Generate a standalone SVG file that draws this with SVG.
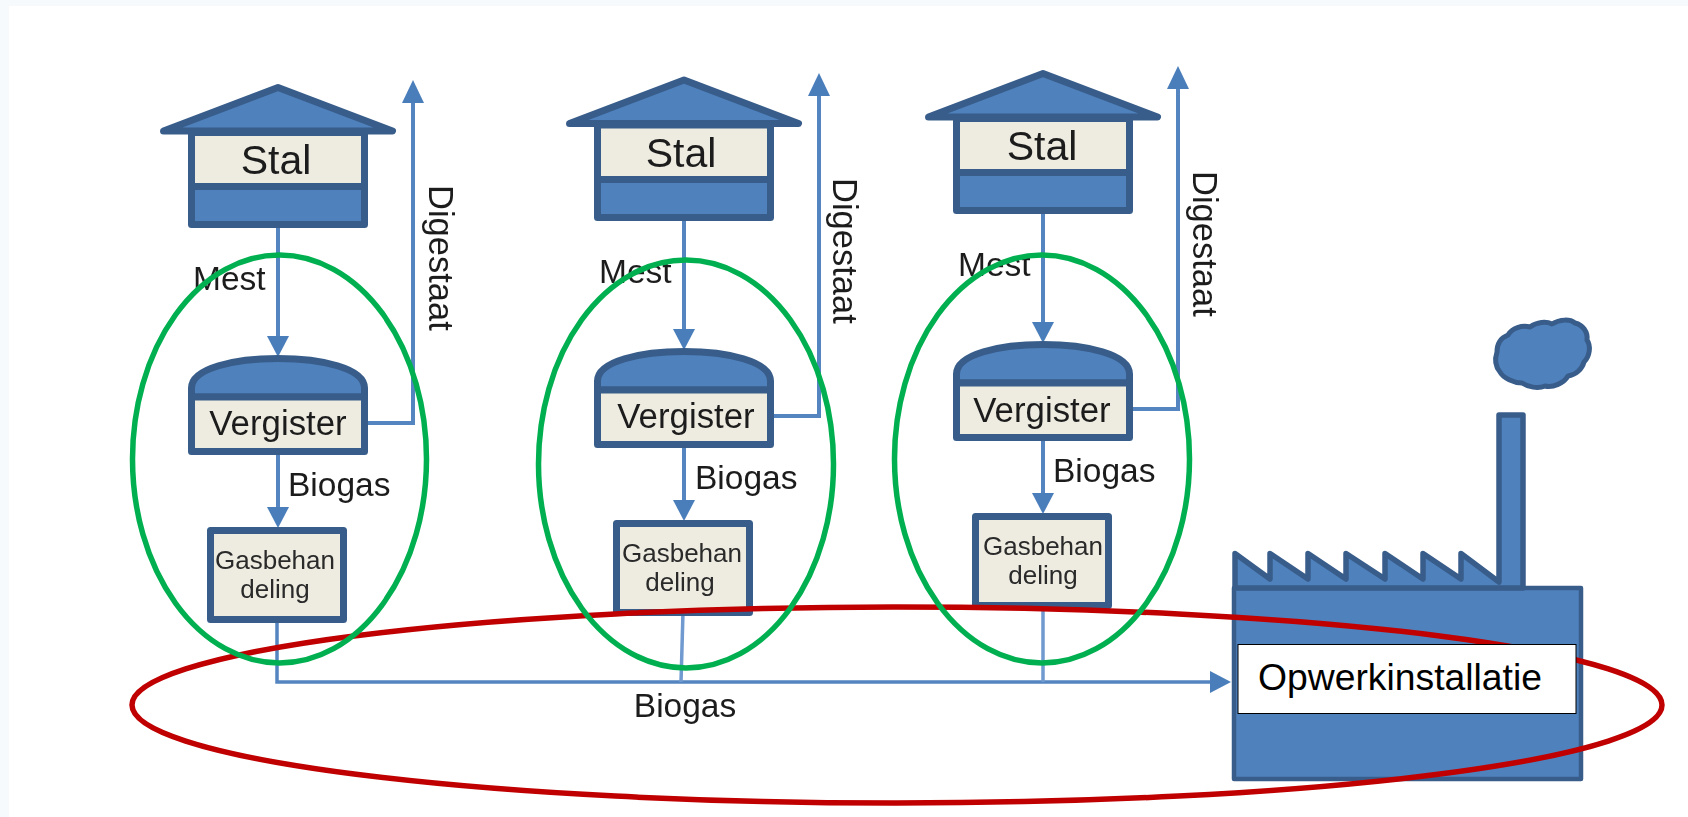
<svg xmlns="http://www.w3.org/2000/svg" width="1688" height="817" viewBox="0 0 1688 817">
<style>
.shape{fill:#4f81bd;stroke:#385d8a;stroke-width:7;stroke-linejoin:round}
.thin{stroke-width:5}
.cream{fill:#eeece1;stroke:#385d8a;stroke-width:7;stroke-linejoin:round}
.wire{fill:none;stroke:#5585c0;stroke-width:4}
.feed{fill:none;stroke:#6f9ad0;stroke-width:3.500}
.head{fill:#4a7ebb}
text{font-family:"Liberation Sans",Arial,sans-serif;fill:#1c1c1c}
.t34{font-size:33.500px}
.t35{font-size:34.800px}
.t40{font-size:41px}
.t26{font-size:26px;fill:#2a2a2a}
.mid{text-anchor:middle}
.green{fill:none;stroke:#00b050;stroke-width:5.500}
.red{fill:none;stroke:#c00000;stroke-width:5.500}
</style>
<defs>
<filter id="soft" x="-5%" y="-5%" width="110%" height="110%"><feGaussianBlur stdDeviation="0.6"/></filter>
</defs>
<rect width="1688" height="817" fill="#f6fafd"/>
<rect x="9" y="6" width="1679" height="811" fill="#ffffff"/>

<g id="connectors" filter="url(#soft)">
<g id="chain-1">
<path class="wire" d="M278 228V338"/><polygon class="head" points="267,336 289,336 278,357"/>
<path class="wire" d="M366 423H413V100"/><polygon class="head" points="402,103 424,103 413,80"/>
<path class="wire" d="M278 455V509"/><polygon class="head" points="267,507 289,507 278,528"/>
</g>
<g id="chain-2" transform="translate(406 -7)">
<path class="wire" d="M278 228V338"/><polygon class="head" points="267,336 289,336 278,357"/>
<path class="wire" d="M366 423H413V100"/><polygon class="head" points="402,103 424,103 413,80"/>
<path class="wire" d="M278 455V509"/><polygon class="head" points="267,507 289,507 278,528"/>
</g>
<g id="chain-3" transform="translate(765 -14)">
<path class="wire" d="M278 228V338"/><polygon class="head" points="267,336 289,336 278,357"/>
<path class="wire" d="M366 423H413V100"/><polygon class="head" points="402,103 424,103 413,80"/>
<path class="wire" d="M278 455V509"/><polygon class="head" points="267,507 289,507 278,528"/>
</g>
<path class="wire" d="M277 620V682H1212" style="stroke-width:3.500"/>
<path class="feed" d="M683 612L681 682"/>
<path class="feed" d="M1043 606V682"/>
<polygon class="head" points="1210,671 1231,682 1210,693"/>
</g>

<g id="stal-1" filter="url(#soft)">
<polygon class="shape" points="163.500,131 278,87.500 392.500,131"/>
<rect class="shape" x="191.500" y="133" width="173" height="91.500"/>
<rect class="cream" x="191.500" y="132.500" width="173" height="54"/>
<text class="t40 mid" x="276" y="174">Stal</text>
</g>
<g id="stal-2" filter="url(#soft)" transform="translate(406 -7.500)">
<polygon class="shape" points="163.500,131 278,87.500 392.500,131"/>
<rect class="shape" x="191.500" y="133" width="173" height="92"/>
<rect class="cream" x="191.500" y="132.500" width="173" height="54.500"/>
<text class="t40 mid" x="275" y="174.500">Stal</text>
</g>
<g id="stal-3" filter="url(#soft)" transform="translate(765 -14)">
<polygon class="shape" points="163.500,131 278,87.500 392.500,131"/>
<rect class="shape" x="191.500" y="133" width="173" height="91.500"/>
<rect class="cream" x="191.500" y="132.500" width="173" height="54"/>
<text class="t40 mid" x="277" y="174">Stal</text>
</g>

<g id="vergister-1" filter="url(#soft)">
<path class="shape" d="M191.500 397V388C191.500 368 235 358.500 278 358.500C321 358.500 364.500 368 364.500 388V397Z"/>
<rect class="cream" x="191.500" y="397" width="173" height="54.500"/>
<text class="t35 mid" x="278" y="435">Vergister</text>
</g>
<g id="vergister-2" filter="url(#soft)" transform="translate(406 -7)">
<path class="shape" d="M191.500 397V388C191.500 368 235 358.500 278 358.500C321 358.500 364.500 368 364.500 388V397Z"/>
<rect class="cream" x="191.500" y="397" width="173" height="54.500"/>
<text class="t35 mid" x="280" y="435">Vergister</text>
</g>
<g id="vergister-3" filter="url(#soft)" transform="translate(765 -14)">
<path class="shape" d="M191.500 397V388C191.500 368 235 358.500 278 358.500C321 358.500 364.500 368 364.500 388V397Z"/>
<rect class="cream" x="191.500" y="397" width="173" height="54.500"/>
<text class="t35 mid" x="277" y="436">Vergister</text>
</g>

<g id="gasbehandeling-1" filter="url(#soft)">
<rect class="cream" x="210.500" y="530.500" width="133" height="89"/>
<text class="t26 mid" x="275" y="569">Gasbehan</text>
<text class="t26 mid" x="275" y="598">deling</text>
</g>
<g id="gasbehandeling-2" filter="url(#soft)" transform="translate(406 -7)">
<rect class="cream" x="210.500" y="530.500" width="133" height="89"/>
<text class="t26 mid" x="276" y="569">Gasbehan</text>
<text class="t26 mid" x="274" y="598">deling</text>
</g>
<g id="gasbehandeling-3" filter="url(#soft)" transform="translate(765 -14)">
<rect class="cream" x="210.500" y="530.500" width="133" height="89"/>
<text class="t26 mid" x="278" y="568.500">Gasbehan</text>
<text class="t26 mid" x="278" y="598">deling</text>
</g>

<g id="labels" filter="url(#soft)">
<text class="t34" x="193" y="290">Mest</text>
<text class="t34" x="599" y="283">Mest</text>
<text class="t34" x="958" y="276">Mest</text>
<text class="t34" x="288" y="496">Biogas</text>
<text class="t34" x="695" y="489">Biogas</text>
<text class="t34" x="1053" y="482">Biogas</text>
<text style="font-size:34.500px" transform="translate(429 185) rotate(90)">Digestaat</text>
<text style="font-size:34.500px" transform="translate(833 178) rotate(90)">Digestaat</text>
<text style="font-size:34.500px" transform="translate(1193 171) rotate(90)">Digestaat</text>
<text class="t34 mid" x="685" y="717">Biogas</text>
</g>

<g id="factory" filter="url(#soft)">
<rect class="shape thin" x="1234" y="588" width="347" height="191" style="stroke-width:4.500"/>
<path class="shape" style="stroke-width:5.500" d="M1235 553.500L1270 579V553.500L1308 579V553.500L1346 579V553.500L1385 579V553.500L1423 579V553.500L1461 579V553.500L1499 582V415H1523V588H1235Z"/>
<path class="thin" d="M1497 352C1497 342 1503 337 1508 335C1512 328 1522 325 1530 327C1537 322 1546 321 1552 324C1560 319 1570 319 1575 323C1583 325 1588 332 1587 340C1591 346 1590 356 1584 362C1582 369 1576 375 1568 376C1564 383 1553 388 1545 386C1538 389 1528 387 1522 383C1514 383 1503 378 1500 372C1495 366 1495 358 1497 352Z" style="fill:#4f81bd;stroke:#385d8a;stroke-linejoin:round"/>
</g>

<ellipse id="ring-red" class="red" cx="897" cy="705" rx="765" ry="98"/>
<g id="ring-green">
<ellipse class="green" cx="279.500" cy="459" rx="147" ry="204"/>
<ellipse class="green" cx="686" cy="464" rx="147.500" ry="204"/>
<ellipse class="green" cx="1042" cy="459" rx="147.500" ry="204"/>
</g>

<g id="opwerkinstallatie">
<rect x="1238" y="644.500" width="338" height="69" fill="#ffffff" stroke="#000000" stroke-width="1"/>
<text x="1258" y="689.500" font-size="37.300" style="fill:#000">Opwerkinstallatie</text>
</g>
</svg>
